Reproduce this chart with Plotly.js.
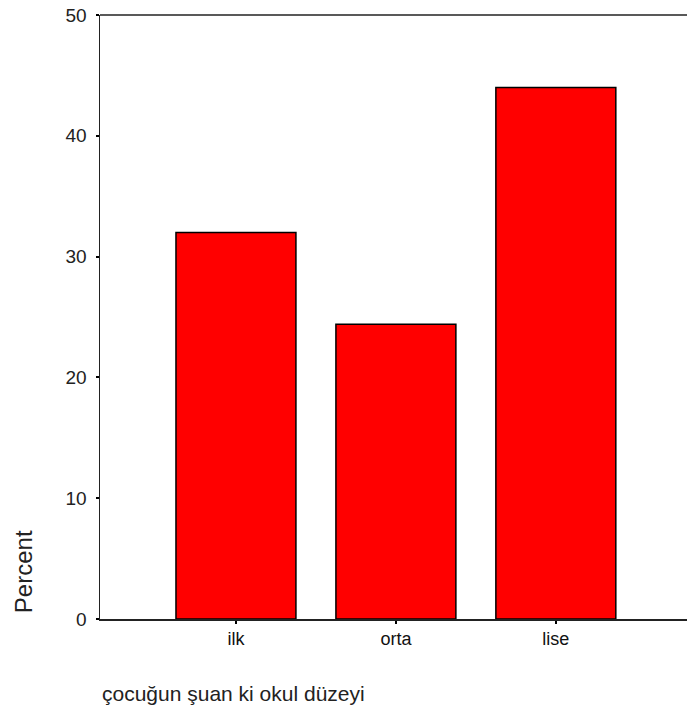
<!DOCTYPE html>
<html>
<head>
<meta charset="utf-8">
<script src="https://cdn.plot.ly/plotly-3.0.1.min.js"></script>
<style>html,body{margin:0;padding:0;background:#fff;overflow:hidden}</style>
</head>
<body>
<div id="chart" style="width:687px;height:717px"></div>
<script>
const categories = ["ilk", "orta", "lise"];
const percentValues = [32.0, 24.4, 44.0];
const yTickValues = [0, 10, 20, 30, 40, 50];

const trace = {
  type: "bar",
  x: categories,
  y: percentValues,
  width: 0.75,
  marker: {color: "#ff0000", line: {color: "#000000", width: 1.5}},
  hoverinfo: "skip"
};

const FONT = "Liberation Sans, Arial, sans-serif";

const layout = {
  width: 687, height: 717,
  margin: {l: 100, r: 0, t: 15, b: 98},
  paper_bgcolor: "#ffffff", plot_bgcolor: "#ffffff",
  showlegend: false,
  font: {family: FONT, color: "#000000", size: 14},
  xaxis: {
    type: "category",
    range: [-0.85, 2.82],
    showgrid: false, zeroline: false,
    showline: true, linecolor: "#222222", linewidth: 1.5,
    ticks: "outside", ticklen: 3, tickwidth: 2, tickcolor: "#000000",
    ticklabelstandoff: 0,
    tickfont: {size: 18, family: FONT, color: "#111"},
    fixedrange: true
  },
  yaxis: {
    range: [0, 50],
    tickvals: yTickValues,
    showgrid: false, zeroline: false,
    showline: true, linecolor: "#222222", linewidth: 1.5,
    ticks: "outside", ticklen: 3, tickwidth: 2, tickcolor: "#000000",
    ticklabelstandoff: 5,
    tickfont: {size: 19, family: FONT, color: "#222"},
    fixedrange: true
  },
  shapes: [
    {type: "line", xref: "paper", yref: "paper", x0: 0, x1: 1, y0: 1, y1: 1,
     line: {color: "#222222", width: 1.5}}
  ],
  annotations: [
    {text: "Percent", xref: "paper", yref: "paper", x: -0.129, y: 0.078,
     xanchor: "center", yanchor: "middle", textangle: -90, showarrow: false,
     font: {size: 24, family: FONT, color: "#222"}},
    {text: "çocuğun şuan ki okul düzeyi", xref: "paper", yref: "paper", x: 0.0, y: -0.124,
     xanchor: "left", yanchor: "middle", showarrow: false,
     font: {size: 21, family: FONT, color: "#222"}}
  ]
};

Plotly.newPlot("chart", [trace], layout, {staticPlot: true, displayModeBar: false});
</script>
</body>
</html>
